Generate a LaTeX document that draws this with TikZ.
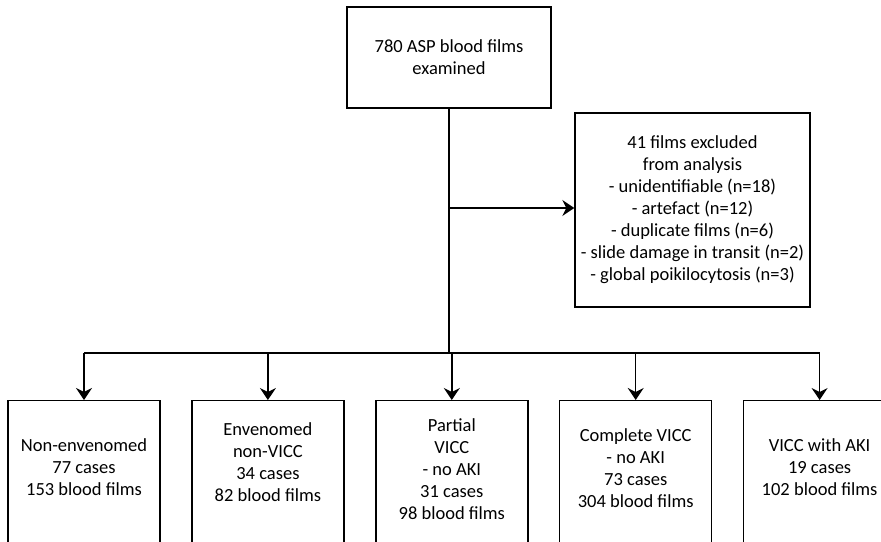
\documentclass[tikz,border=0pt]{standalone}
\usepackage{fontspec}
\setmainfont{Carlito}
\usetikzlibrary{positioning}
\usetikzlibrary{arrows.meta}
\tikzset{node distance=30.5pt, % gap between the bottom boxes
box/.style={ % boxes with text
draw,
line width=1.4pt,
align=center,
inner sep=0pt,
font=\fontsize{18.5}{22}\selectfont},
group/.style={ % empty frames of the bottom row
draw,
line width=1.4pt,
minimum width=152pt,
minimum height=160pt},
txt/.style={ % text inside a bottom frame
align=center,
inner sep=0pt,
font=\fontsize{18.5}{22}\selectfont},
flow/.style={ % arrows
draw,
line width=1.4pt,
-{Stealth[length=12pt,width=16pt,inset=4pt]}}}

\begin{document}
\begin{tikzpicture}[x=1pt,y=-1pt]
\path[use as bounding box] (0,0) rectangle (881,541);
\clip (0,0) rectangle (881,541);
\node[box, minimum width=204pt, minimum height=101pt] (films) at (449,57.5) {780 ASP blood films\\examined};
\node[box, minimum width=235pt, minimum height=194pt] (excl) at (692.5,210) {41 films excluded\\from analysis\\- unidentifiable (n=18)\\- artefact (n=12)\\- duplicate films (n=6)\\- slide damage in transit (n=2)\\- global poikilocytosis (n=3)};
\node[group, anchor=north] (nonenv) at (84,400) {};
\node[group, right=of nonenv] (env) {};
\node[group, right=of env] (partial) {};
\node[group, right=of partial] (complete) {};
\node[group, right=of complete] (aki) {};
\node[txt] (nonenvtxt) at ([yshift=-67pt]nonenv.north) {Non-envenomed\\77 cases\\153 blood films};
\node[txt] (envtxt) at ([yshift=-62pt]env.north) {Envenomed\\non-VICC\\34 cases\\82 blood films};
\node[txt] (partialtxt) at ([yshift=-69pt]partial.north) {Partial\\VICC\\- no AKI\\31 cases\\98 blood films};
\node[txt] (completetxt) at ([yshift=-68pt]complete.north) {Complete VICC\\- no AKI\\73 cases\\304 blood films};
\node[txt] (akitxt) at ([yshift=-67pt]aki.north) {VICC with AKI\\19 cases\\102 blood films};
\coordinate (branch) at (449,208);
\coordinate (split) at (449,353);
\draw[line width=1.4pt] (films.south) -- (split);
\draw[flow] (branch) -- (branch -| excl.west);
\draw[line width=1.4pt] (nonenv.north |- split) -- (aki.north |- split);
\foreach \g in {nonenv,env,partial,complete,aki}
\draw[flow] (\g.north |- split) -- (\g.north);
\end{tikzpicture}
\end{document}
